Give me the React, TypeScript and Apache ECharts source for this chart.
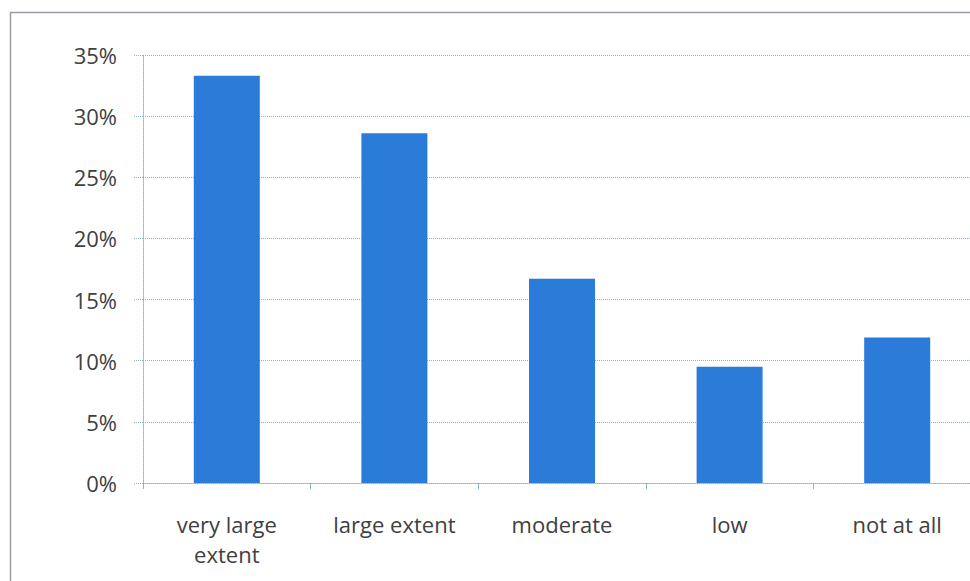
import React, { useEffect, useRef } from "react";
import * as echarts from "echarts";

const categories = ["very large\nextent", "large extent", "moderate", "low", "not at all"];
const shares = [33.3, 28.6, 16.7, 9.5, 11.9];
const yTicks = [0, 5, 10, 15, 20, 25, 30, 35];

const FONT = "'Open Sans', 'Liberation Sans', sans-serif";
const GRID_COLOR = "#8fb1cc";

export default function App() {
  const ref = useRef<HTMLDivElement>(null);

  useEffect(() => {
    if (!ref.current) return;
    const chart = echarts.init(ref.current, undefined, { renderer: "svg" });
    chart.setOption({
      animation: false,
      backgroundColor: "#ffffff",
      graphic: [
        {
          type: "rect",
          shape: { x: 10.5, y: 12.5, width: 1000, height: 1000 },
          style: { fill: "none", stroke: "#9a9ea4", lineWidth: 1.5 },
          silent: true,
        },
      ],
      grid: { left: 143, right: 0, top: 55, bottom: 98 },
      xAxis: {
        type: "category",
        data: categories,
        axisLine: { show: true, lineStyle: { color: GRID_COLOR, type: "dotted", width: 1 } },
        axisTick: { show: true, length: 6, lineStyle: { color: GRID_COLOR } },
        axisLabel: {
          color: "#404040",
          fontFamily: FONT,
          fontSize: 22,
          lineHeight: 30,
          margin: 26,
          interval: 0,
        },
      },
      yAxis: {
        type: "value",
        min: yTicks[0],
        max: yTicks[yTicks.length - 1],
        interval: 5,
        axisLine: { show: true, lineStyle: { color: GRID_COLOR, type: "dotted", width: 1 } },
        axisTick: { show: true, length: 10, lineStyle: { color: GRID_COLOR, type: "dotted" } },
        splitLine: { show: true, lineStyle: { color: GRID_COLOR, type: "dotted", width: 1 } },
        axisLabel: {
          color: "#404040",
          fontFamily: FONT,
          fontSize: 22,
          margin: 26,
          formatter: (v: number) => `${v}%`,
        },
      },
      series: [
        {
          type: "bar",
          data: shares,
          barWidth: 66,
          itemStyle: { color: "#2b7bd8" },
        },
      ],
    });
    return () => chart.dispose();
  }, []);

  return (
    <div style={{ position: "absolute", left: 0, top: 0, width: 970, height: 581, overflow: "hidden" }}>
      <div ref={ref} style={{ width: 981, height: 581 }} />
    </div>
  );
}
